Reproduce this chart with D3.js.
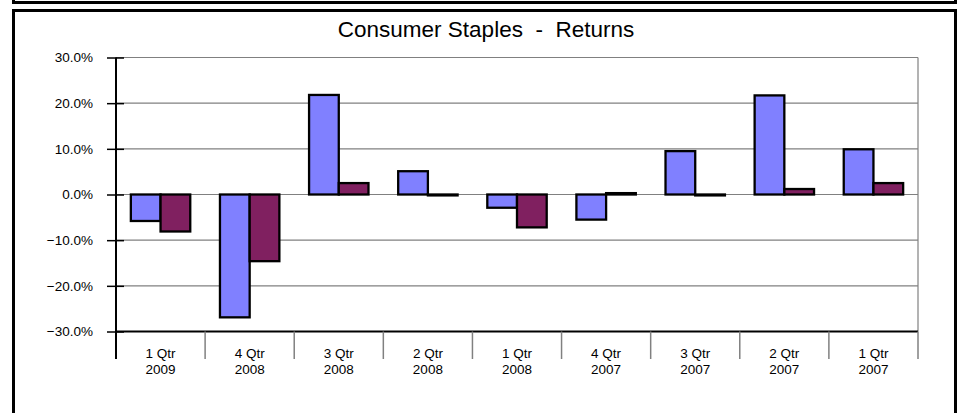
<!DOCTYPE html>
<html>
<head>
<meta charset="utf-8">
<script src="https://cdn.jsdelivr.net/npm/d3@7"></script>
<style>
    body { margin: 0; background: #fff; }
    svg { display: block; font-family: "Liberation Sans", Arial, sans-serif; }
</style>
</head>
<body>
<svg id="chart" width="965" height="413"></svg>
<script>
// quarters, newest first (as in the sheet)
const quarters = ['1 Qtr|2009', '4 Qtr|2008', '3 Qtr|2008', '2 Qtr|2008', '1 Qtr|2008',
                  '4 Qtr|2007', '3 Qtr|2007', '2 Qtr|2007', '1 Qtr|2007'];
const seriesA = [-5.8, -26.9, 21.8, 5.1, -2.9, -5.5, 9.5, 21.7, 9.9];
const seriesB = [-8.1, -14.6, 2.5, -0.2, -7.2, 0.3, -0.2, 1.2, 2.5];
const yTicks = [-30, -20, -10, 0, 10, 20, 30];
const seriesColors = ['#8080FF', '#802060'];

var Chart = function() {

    var buildChart = function() {
        const svg = d3.select('#chart');
        const left = 116, right = 918, top = 57.5, bottom = 331.5;

        // frames
        svg.append('rect')
            .attr('x', 13.5).attr('y', -10)
            .attr('width', 942).attr('height', 12.5)
            .attr('fill', 'none').attr('stroke', '#000').attr('stroke-width', 3);
        svg.append('rect')
            .attr('x', 13.5).attr('y', 10.5)
            .attr('width', 942).attr('height', 430)
            .attr('fill', 'none').attr('stroke', '#000').attr('stroke-width', 3);

        svg.append('text')
            .attr('x', 486)
            .attr('y', 37)
            .attr('text-anchor', 'middle')
            .style('font-size', '22.5px')
            .style('white-space', 'pre')
            .text('Consumer Staples  -  Returns');

        const yScale = d3.scaleLinear()
            .domain([-30, 30])
            .range([bottom, top]);
        const xScale = d3.scaleBand()
            .domain(quarters)
            .range([left, right])
            .padding(0);
        const xInner = d3.scaleBand()
            .domain([0, 1])
            .range([0, xScale.bandwidth()])
            .paddingInner(0)
            .paddingOuter(0.5);

        // gridlines
        svg.append('g')
            .selectAll('line')
            .data(yTicks.filter(t => t > -30))
            .enter()
            .append('line')
            .attr('x1', left).attr('x2', right)
            .attr('y1', d => yScale(d)).attr('y2', d => yScale(d))
            .attr('stroke', '#808080').attr('stroke-width', 1.2);
        svg.append('line')
            .attr('x1', right).attr('x2', right)
            .attr('y1', top).attr('y2', bottom)
            .attr('stroke', '#808080').attr('stroke-width', 1.2);

        // bars
        const groups = svg.append('g')
            .selectAll('g')
            .data(quarters)
            .enter()
            .append('g')
            .attr('transform', d => `translate(${xScale(d)},0)`);
        groups.selectAll('rect')
            .data((d, i) => [seriesA[i], seriesB[i]])
            .enter()
            .append('rect')
            .attr('x', (v, j) => xInner(j))
            .attr('y', v => yScale(Math.max(0, v)))
            .attr('width', xInner.bandwidth())
            .attr('height', v => Math.abs(yScale(v) - yScale(0)))
            .attr('fill', (v, j) => seriesColors[j])
            .attr('stroke', '#000')
            .attr('stroke-width', 2.3);

        // y axis with cross ticks
        const yAxis = svg.append('g')
            .attr('transform', `translate(${left},0)`)
            .call(d3.axisLeft(yScale)
                .tickValues(yTicks)
                .tickSizeInner(9)
                .tickSizeOuter(0)
                .tickFormat(d => d3.format('.1f')(d) + '%'));
        yAxis.select('.domain').remove();
        yAxis.selectAll('.tick line')
            .attr('x2', -9).attr('x1', 8)
            .attr('stroke', '#000').attr('stroke-width', 1.5);
        yAxis.selectAll('.tick text')
            .attr('x', -23)
            .style('font-size', '13.5px')
            .style('font-family', '"Liberation Sans", Arial, sans-serif')
            .attr('fill', '#000');
        svg.append('line')
            .attr('x1', left).attr('x2', left)
            .attr('y1', top).attr('y2', 359)
            .attr('stroke', '#000').attr('stroke-width', 2);

        // category axis
        svg.append('line')
            .attr('x1', left).attr('x2', right)
            .attr('y1', bottom).attr('y2', bottom)
            .attr('stroke', '#000').attr('stroke-width', 2);
        svg.append('g')
            .selectAll('line')
            .data(quarters)
            .enter()
            .append('line')
            .attr('x1', d => xScale(d) + xScale.bandwidth())
            .attr('x2', d => xScale(d) + xScale.bandwidth())
            .attr('y1', bottom).attr('y2', 359)
            .attr('stroke', '#808080').attr('stroke-width', 1.5);

        const labels = svg.append('g')
            .selectAll('text')
            .data(quarters)
            .enter()
            .append('text')
            .attr('x', d => xScale(d) + xScale.bandwidth() / 2)
            .attr('text-anchor', 'middle')
            .style('font-size', '13.5px');
        labels.append('tspan')
            .attr('x', d => xScale(d) + xScale.bandwidth() / 2)
            .attr('y', 358)
            .text(d => d.split('|')[0]);
        labels.append('tspan')
            .attr('x', d => xScale(d) + xScale.bandwidth() / 2)
            .attr('y', 374)
            .text(d => d.split('|')[1]);
    };

    return {
        init: function() {
            buildChart();
        }
    };
}();
document.addEventListener('DOMContentLoaded', function() {
    Chart.init();
});
</script>
</body>
</html>
